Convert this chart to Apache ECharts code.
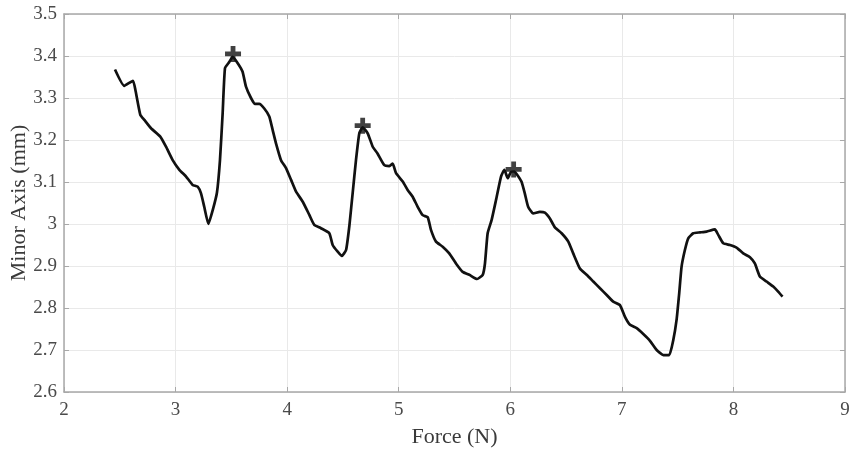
<!DOCTYPE html>
<html>
<head>
<meta charset="utf-8">
<script src="https://cdn.jsdelivr.net/npm/echarts@6/dist/echarts.min.js"></script>
<style>html,body{margin:0;padding:0;background:#fff;}#c{width:858px;height:455px;}</style>
</head>
<body>
<div id="c"></div>
<script>
const forceN = [2.457,2.54,2.618,2.64,2.684,2.72,2.78,2.863,2.914,2.974,3.034,3.094,3.153,3.198,3.228,3.257,3.294,3.333,3.371,3.398,3.422,3.443,3.482,3.512,3.557,3.6,3.631,3.676,3.712,3.75,3.795,3.84,3.87,3.9,3.945,3.99,4.035,4.08,4.14,4.2,4.243,4.303,4.378,4.408,4.453,4.49,4.528,4.557,4.587,4.617,4.647,4.677,4.722,4.767,4.81,4.871,4.916,4.946,4.976,5.036,5.08,5.125,5.17,5.215,5.26,5.289,5.334,5.394,5.453,5.513,5.573,5.633,5.702,5.753,5.773,5.797,5.833,5.872,5.917,5.947,5.977,6.006,6.036,6.06,6.10,6.13,6.16,6.205,6.265,6.31,6.355,6.4,6.46,6.52,6.564,6.624,6.684,6.744,6.804,6.864,6.923,6.983,7.028,7.073,7.133,7.192,7.252,7.312,7.372,7.425,7.461,7.49,7.514,7.535,7.565,7.595,7.64,7.7,7.76,7.834,7.864,7.909,7.969,8.028,8.088,8.148,8.192,8.237,8.297,8.357,8.401,8.44];
const minorAxis = [3.368,3.329,3.341,3.319,3.260,3.248,3.228,3.208,3.184,3.152,3.129,3.113,3.093,3.089,3.073,3.041,3.0,3.033,3.075,3.152,3.264,3.371,3.386,3.398,3.383,3.363,3.327,3.300,3.286,3.286,3.275,3.256,3.224,3.192,3.152,3.133,3.105,3.077,3.053,3.021,2.998,2.990,2.978,2.95,2.934,2.924,2.938,2.994,3.073,3.152,3.216,3.23,3.216,3.184,3.168,3.140,3.138,3.144,3.121,3.101,3.081,3.065,3.041,3.021,3.016,2.986,2.958,2.946,2.930,2.906,2.886,2.879,2.869,2.879,2.906,2.978,3.01,3.057,3.113,3.129,3.109,3.124,3.125,3.118,3.101,3.073,3.041,3.025,3.029,3.027,3.013,2.992,2.978,2.958,2.930,2.894,2.879,2.863,2.847,2.831,2.815,2.807,2.779,2.760,2.752,2.738,2.722,2.70,2.688,2.688,2.724,2.771,2.835,2.898,2.938,2.966,2.978,2.980,2.982,2.987,2.974,2.954,2.950,2.944,2.930,2.921,2.906,2.875,2.863,2.851,2.839,2.827];
const peakForce = [3.515, 4.677, 6.03];
const peakMinor = [3.405, 3.234, 3.13];
const xTicks = [2,3,4,5,6,7,8,9];
const yTicks = [2.6,2.7,2.8,2.9,3,3.1,3.2,3.3,3.4,3.5];

const lineData = forceN.map((x, i) => [x, minorAxis[i]]);
const peakData = peakForce.map((x, i) => [x, peakMinor[i]]);

const font = '"Liberation Serif", "DejaVu Serif", serif';
const labelStyle = {color: '#4a4a4a', fontFamily: font, fontSize: 19};
const axisLine = {show: true, lineStyle: {color: '#a8a8a8', width: 1.5}};
const tick = {show: true, inside: true, length: 5, lineStyle: {color: '#a8a8a8'}};

const chart = echarts.init(document.getElementById('c'), null, {renderer: 'canvas'});
chart.setOption({
  animation: false,
  backgroundColor: '#fff',
  grid: {left: 64, right: 13, top: 14, bottom: 63, containLabel: false, outerBoundsMode: 'none'},
  xAxis: [{
    type: 'value', min: xTicks[0], max: xTicks[xTicks.length - 1], interval: 1,
    name: 'Force (N)', nameLocation: 'middle', nameGap: 34, nameMoveOverlap: false,
    nameTextStyle: {color: '#3a3a3a', fontFamily: font, fontSize: 22},
    axisLine: axisLine, axisTick: tick,
    axisLabel: Object.assign({margin: 9}, labelStyle),
    splitLine: {show: true, lineStyle: {color: '#e9e9e9', width: 1}}
  }, {
    type: 'value', position: 'top', min: xTicks[0], max: xTicks[xTicks.length - 1], interval: 1,
    axisLine: axisLine, axisTick: tick, axisLabel: {show: false}, splitLine: {show: false}
  }],
  yAxis: [{
    type: 'value', min: yTicks[0], max: yTicks[yTicks.length - 1], interval: 0.1,
    name: 'Minor Axis (mm)', nameLocation: 'middle', nameGap: 34, nameMoveOverlap: false,
    nameTextStyle: {color: '#3a3a3a', fontFamily: font, fontSize: 22},
    axisLine: axisLine, axisTick: tick,
    axisLabel: Object.assign({margin: 7, formatter: v => String(parseFloat(v.toFixed(1)))}, labelStyle),
    splitLine: {show: true, lineStyle: {color: '#e9e9e9', width: 1}}
  }, {
    type: 'value', position: 'right', min: yTicks[0], max: yTicks[yTicks.length - 1], interval: 0.1,
    axisLine: axisLine, axisTick: tick, axisLabel: {show: false}, splitLine: {show: false}
  }],
  series: [{
    type: 'line', data: lineData, showSymbol: false, symbol: 'none', smooth: 0.15,
    lineStyle: {color: '#111', width: 2.7}
  }, {
    type: 'scatter', data: peakData, z: 5,
    symbol: 'path://M3.5,0 L6.5,0 L6.5,3.5 L10,3.5 L10,6.5 L6.5,6.5 L6.5,10 L3.5,10 L3.5,6.5 L0,6.5 L0,3.5 L3.5,3.5 Z',
    symbolSize: 16,
    itemStyle: {color: '#111'}
  }]
});
</script>
</body>
</html>
